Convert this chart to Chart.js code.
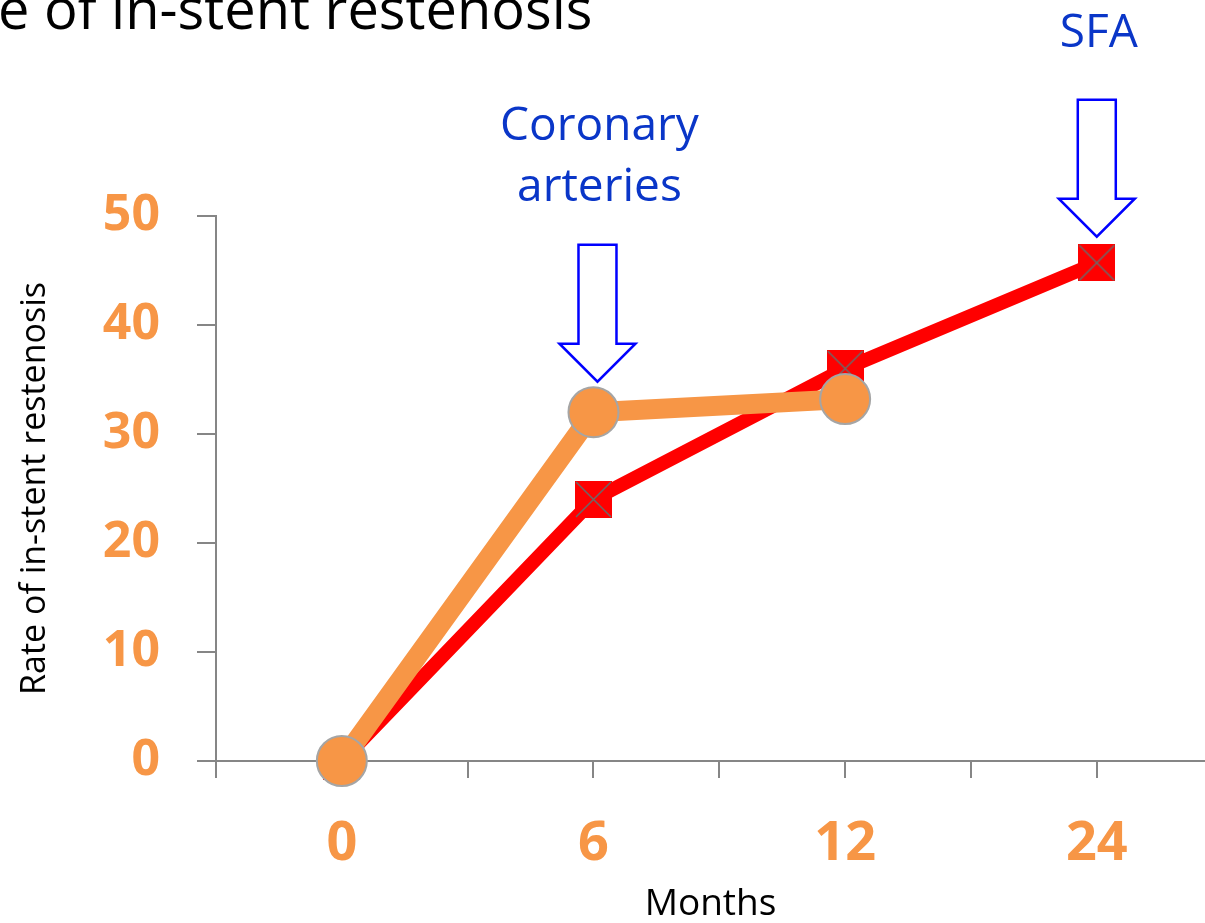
<!DOCTYPE html>
<html>
<head>
<meta charset="utf-8">
<script src="https://cdn.jsdelivr.net/npm/chart.js@4"></script>
<style>
  html, body { margin: 0; padding: 0; background: #fff; }
  #wrap { width: 1205px; height: 923px; }
</style>
</head>
<body>
<div id="wrap"><canvas id="chart"></canvas></div>
<script>
// months after stenting
const months = ['0', '6', '12', '24'];
// SFA in-stent restenosis (%)
const sfaRate = [0, 24, 36, 45.7];
// coronary in-stent restenosis (%)
const coronaryRate = [0, 32, 33.2, null];
const yTicks = [0, 10, 20, 30, 40, 50];

const orange = '#F79646';
const axisGray = '#868686';

// red square with a grey cross, used as point style
const sq = document.createElement('canvas');
sq.width = 37; sq.height = 37;
const sctx = sq.getContext('2d');
sctx.fillStyle = '#FF0000';
sctx.fillRect(0, 0, 37, 37);
sctx.strokeStyle = '#6a6a6a';
sctx.lineWidth = 1.5;
sctx.beginPath();
sctx.moveTo(1, 1); sctx.lineTo(36, 36);
sctx.moveTo(36, 1); sctx.lineTo(1, 36);
sctx.stroke();

// callouts: index of the month, text lines with their baselines, arrow tip value
const notes = [
  { at: 1, lines: ['Coronary', 'arteries'], baseY: [140, 201], dx: 4, tip: 34.8 },
  { at: 3, lines: ['SFA'], baseY: [47], dx: 0, tip: 48.1 },
];

const annotate = {
  id: 'annotate',
  afterDatasetsDraw(chart) {
    const ctx = chart.ctx;
    const xs = chart.scales.x, ys = chart.scales.y;
    ctx.save();
    // cropped slide title
    ctx.fillStyle = '#000';
    ctx.font = '56px "Open Sans"';
    ctx.textAlign = 'left';
    ctx.textBaseline = 'alphabetic';
    ctx.fillText('e of in-stent restenosis', -2, 29);

    notes.forEach(n => {
      const cx = xs.getPixelForValue(n.at) + n.dx;
      const tipY = ys.getPixelForValue(n.tip);
      const top = tipY - 137, neck = tipY - 38;
      ctx.beginPath();
      ctx.moveTo(cx - 19, top);
      ctx.lineTo(cx + 19, top);
      ctx.lineTo(cx + 19, neck);
      ctx.lineTo(cx + 38, neck);
      ctx.lineTo(cx, tipY);
      ctx.lineTo(cx - 38, neck);
      ctx.lineTo(cx - 19, neck);
      ctx.closePath();
      ctx.fillStyle = '#fff';
      ctx.fill();
      ctx.strokeStyle = '#0000FF';
      ctx.lineWidth = 2.5;
      ctx.stroke();

      ctx.fillStyle = '#0A36C8';
      ctx.font = '46px "Open Sans"';
      ctx.textAlign = 'center';
      n.lines.forEach((t, i) => ctx.fillText(t, cx + 2, n.baseY[i]));
    });
    ctx.restore();
  }
};

new Chart(document.getElementById('chart'), {
  type: 'line',
  data: {
    datasets: [
      {
        label: 'Coronary',
        data: months.map((m, i) => ({ x: i, y: coronaryRate[i] })),
        borderColor: orange,
        backgroundColor: orange,
        borderWidth: 20,
        pointRadius: 25,
        pointBorderWidth: 2,
        pointBorderColor: '#A5A5A5',
        pointBackgroundColor: orange,
        clip: false,
        order: 0,
      },
      {
        label: 'SFA',
        data: months.map((m, i) => ({ x: i, y: sfaRate[i] })),
        borderColor: '#FF0000',
        backgroundColor: '#FF0000',
        borderWidth: 14,
        pointStyle: sq,
        pointRadius: 18,
        clip: false,
        order: 1,
      },
    ],
  },
  options: {
    responsive: true,
    maintainAspectRatio: false,
    animation: false,
    events: [],
    layout: { autoPadding: false, padding: { top: 216, right: 0, left: 0, bottom: 0 } },
    plugins: { legend: { display: false }, tooltip: { enabled: false } },
    scales: {
      x: {
        type: 'linear',
        min: -0.5,
        max: 3.43,
        afterFit(scale) {
          scale.height = 162;
          scale.paddingLeft = 0;
          scale.paddingRight = 0;
        },
        border: { color: axisGray, width: 2 },
        grid: { drawOnChartArea: false, color: axisGray, tickLength: 17, lineWidth: 2 },
        ticks: {
          stepSize: 0.5,
          includeBounds: false,
          autoSkip: false,
          maxRotation: 0,
          padding: 0,
          color: orange,
          font: { family: 'Noto Sans', size: 54, weight: 'bold', lineHeight: 2.48 },
          callback: v => Number.isInteger(v) ? months[v] : '',
        },
        title: {
          display: true,
          text: 'Months',
          color: '#000',
          font: { family: 'Open Sans', size: 37, lineHeight: 1 },
          padding: { top: 0, bottom: 0 },
        },
      },
      y: {
        min: yTicks[0],
        max: yTicks[yTicks.length - 1],
        afterFit(scale) { scale.width = 216; },
        border: { color: axisGray, width: 2 },
        grid: { drawOnChartArea: false, color: axisGray, tickLength: 19, lineWidth: 2 },
        ticks: {
          stepSize: yTicks[1] - yTicks[0],
          padding: 37,
          color: orange,
          font: { family: 'Noto Sans', size: 50, weight: 'bold' },
        },
        title: {
          display: true,
          text: 'Rate of in-stent restenosis',
          color: '#000',
          font: { family: 'Open Sans', size: 34, lineHeight: 1 },
          padding: { top: 18, bottom: 0 },
        },
      },
    },
  },
  plugins: [annotate],
});
</script>
</body>
</html>
